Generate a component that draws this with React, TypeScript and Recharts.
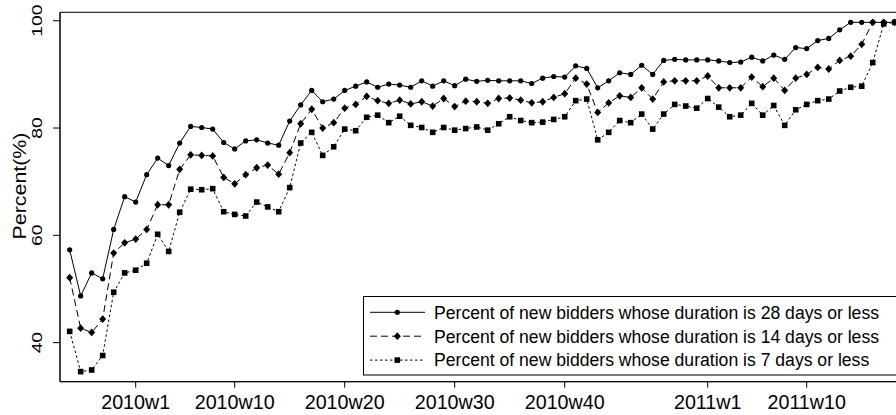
import React from "react";
import { LineChart, Line, XAxis, YAxis, ReferenceArea, Legend } from "recharts";

// weekly categories, 2009w47 .. 2011w18
const weeks = [
  "2009w47", "2009w48", "2009w49", "2009w50", "2009w51", "2009w52",
  "2010w1", "2010w2", "2010w3", "2010w4", "2010w5", "2010w6", "2010w7", "2010w8", "2010w9", "2010w10",
  "2010w11", "2010w12", "2010w13", "2010w14", "2010w15", "2010w16", "2010w17", "2010w18", "2010w19", "2010w20",
  "2010w21", "2010w22", "2010w23", "2010w24", "2010w25", "2010w26", "2010w27", "2010w28", "2010w29", "2010w30",
  "2010w31", "2010w32", "2010w33", "2010w34", "2010w35", "2010w36", "2010w37", "2010w38", "2010w39", "2010w40",
  "2010w41", "2010w42", "2010w43", "2010w44", "2010w45", "2010w46", "2010w47", "2010w48", "2010w49", "2010w50",
  "2010w51", "2010w52",
  "2011w1", "2011w2", "2011w3", "2011w4", "2011w5", "2011w6", "2011w7", "2011w8", "2011w9", "2011w10",
  "2011w11", "2011w12", "2011w13", "2011w14", "2011w15", "2011w16", "2011w17", "2011w18",
];

const pct28 = [
  57.3, 48.7, 53.0, 51.9, 61.1, 67.2, 66.2, 71.3, 74.4, 73.0,
  77.2, 80.3, 80.1, 79.8, 77.3, 76.1, 77.6, 77.8, 77.2, 76.8,
  81.3, 84.3, 87.0, 84.9, 85.4, 87.0, 87.8, 88.6, 87.6, 88.2,
  88.0, 87.6, 88.8, 87.8, 88.8, 87.9, 89.1, 88.7, 88.9, 88.8,
  88.8, 88.8, 88.3, 89.3, 89.6, 89.5, 91.6, 91.1, 87.5, 88.8,
  90.3, 90.0, 91.7, 90.0, 92.6, 92.8, 92.7, 92.7, 92.7, 92.5,
  92.2, 92.3, 93.2, 92.5, 93.6, 92.8, 95.0, 94.8, 96.3, 96.7,
  98.3, 99.7, 99.7, 99.7, 99.7, 99.7,
];

const pct14 = [
  52.1, 42.7, 41.9, 44.4, 56.7, 58.6, 59.3, 61.1, 65.7, 65.7,
  72.3, 75.0, 74.9, 74.8, 70.8, 69.6, 71.3, 72.6, 73.1, 71.4,
  75.4, 80.8, 83.5, 80.0, 81.0, 83.7, 84.4, 85.9, 85.1, 84.6,
  85.2, 84.5, 84.9, 84.1, 85.5, 84.0, 85.0, 84.9, 84.6, 85.5,
  85.6, 85.2, 84.7, 84.9, 85.7, 86.4, 89.3, 88.2, 82.9, 84.7,
  86.0, 85.7, 87.5, 85.4, 88.6, 88.8, 88.8, 88.8, 89.7, 87.5,
  87.5, 87.5, 89.5, 87.7, 89.3, 87.0, 89.3, 90.0, 91.3, 91.0,
  92.6, 93.4, 95.6, 99.7, 99.7, 99.7,
];

const pct7 = [
  42.1, 34.6, 34.9, 37.6, 49.4, 53.0, 53.5, 54.8, 60.2, 57.0,
  64.3, 68.6, 68.5, 68.7, 64.4, 63.9, 63.6, 66.2, 65.3, 64.4,
  68.9, 77.2, 79.2, 74.9, 76.5, 79.8, 79.5, 82.0, 82.4, 81.0,
  82.2, 80.5, 80.1, 79.2, 80.1, 79.6, 79.9, 80.2, 79.6, 80.8,
  82.1, 81.4, 81.0, 81.1, 81.6, 82.1, 85.1, 85.4, 77.8, 79.2,
  81.4, 81.0, 82.6, 79.8, 82.6, 84.4, 84.1, 83.7, 85.5, 83.9,
  82.1, 82.4, 84.6, 82.4, 84.2, 80.5, 83.4, 84.4, 85.1, 85.4,
  86.9, 87.6, 87.8, 92.2, 99.4, 99.7,
];

const tickWeeks = ["2010w1", "2010w10", "2010w20", "2010w30", "2010w40", "2011w1", "2011w10"];
const yTicks = [40, 60, 80, 100];

const seriesNames = [
  "Percent of new bidders whose duration is 28 days or less",
  "Percent of new bidders whose duration is 14 days or less",
  "Percent of new bidders whose duration is 7 days or less",
];

const data = weeks.map((w, i) => ({ idx: i, week: w, d28: pct28[i], d14: pct14[i], d7: pct7[i] }));
const tickIdx = tickWeeks.map((w) => weeks.indexOf(w));

const FONT = '"Liberation Sans", Arial, Helvetica, sans-serif';
const X_DOMAIN: [number, number] = [-0.88, weeks.length - 1 + 0.88];
const Y_DOMAIN: [number, number] = [32.72, 101.57];

const drawCircle = (cx: number, cy: number, key?: any) => (
  <circle key={key} cx={cx} cy={cy} r={2.6} fill="#000" />
);
const drawDiamond = (cx: number, cy: number, key?: any) => (
  <path key={key} d={`M${cx},${cy - 3.9}L${cx + 3.5},${cy}L${cx},${cy + 3.9}L${cx - 3.5},${cy}Z`} fill="#000" />
);
const drawSquare = (cx: number, cy: number, key?: any) => (
  <rect key={key} x={cx - 2.8} y={cy - 2.8} width={5.6} height={5.6} fill="#000" />
);

const dotWith = (fn: typeof drawCircle) => (p: any) => {
  if (p.cx == null || p.cy == null) return <g key={p.index} />;
  return fn(p.cx, p.cy, p.index);
};

const YTick = (props: any) => {
  const { y, payload } = props;
  return (
    <text
      transform={`translate(42.3,${y}) rotate(-90) scale(1,0.78)`}
      textAnchor="middle"
      fontSize={19.3}
      fontFamily={FONT}
      fill="#000"
    >
      {payload.value}
    </text>
  );
};

const YLabel = () => (
  <text
    transform="translate(26,186) rotate(-90) scale(1,0.85)"
    textAnchor="middle"
    fontSize={21.4}
    fontFamily={FONT}
    fill="#000"
  >
    Percent(%)
  </text>
);

const legendStyles = [
  { dash: undefined, marker: drawCircle },
  { dash: "7 4", marker: drawDiamond },
  { dash: "2.5 2.5", marker: drawSquare },
];

const LegendBox = () => (
  <svg width={560} height={80} style={{ display: "block" }}>
    <rect x={0.5} y={0.5} width={545} height={78.5} fill="#fff" stroke="#000" strokeWidth={1} />
    {seriesNames.map((name, i) => {
      const cy = 16.3 + i * 23.9;
      const st = legendStyles[i];
      return (
        <g key={name}>
          <line x1={7} x2={62} y1={cy} y2={cy} stroke="#000" strokeWidth={1} strokeDasharray={st.dash} />
          {st.marker(34.3, cy)}
          <text x={71} y={cy + 6.3} fontSize={17.6} fontFamily={FONT} fill="#000">
            {name}
          </text>
        </g>
      );
    })}
  </svg>
);

export default function App() {
  return (
    <div
      style={{
        position: "absolute",
        left: 0,
        top: 0,
        width: 896,
        height: 415,
        overflow: "hidden",
        background: "#fff",
      }}
    >
      <LineChart
        width={920}
        height={415}
        data={data}
        margin={{ top: 12.3, right: 15.6, bottom: 0, left: 0 }}
      >
        <ReferenceArea
          x1={X_DOMAIN[0]}
          x2={X_DOMAIN[1]}
          y1={Y_DOMAIN[0]}
          y2={Y_DOMAIN[1]}
          fill="none"
          fillOpacity={0}
          stroke="#000"
          strokeWidth={1}
          strokeOpacity={1}
        />
        <XAxis
          dataKey="idx"
          type="number"
          domain={X_DOMAIN}
          allowDataOverflow
          ticks={tickIdx}
          interval={0}
          tickFormatter={(v: number) => weeks[v]}
          tickSize={6}
          tickMargin={7.3}
          height={33.3}
          tick={{ fontSize: 19.7, fill: "#000", fontFamily: FONT }}
          axisLine={{ stroke: "#000" }}
          tickLine={{ stroke: "#000" }}
        />
        <YAxis
          type="number"
          domain={Y_DOMAIN}
          allowDataOverflow
          ticks={yTicks}
          interval={0}
          width={60}
          tickSize={7}
          tick={<YTick />}
          axisLine={{ stroke: "#000" }}
          tickLine={{ stroke: "#000" }}
          label={{ content: <YLabel /> }}
        />
        <Line
          type="linear"
          dataKey="d28"
          name={seriesNames[0]}
          stroke="#000"
          strokeWidth={1}
          dot={dotWith(drawCircle)}
          activeDot={false}
          isAnimationActive={false}
        />
        <Line
          type="linear"
          dataKey="d14"
          name={seriesNames[1]}
          stroke="#000"
          strokeWidth={1}
          strokeDasharray="7 4"
          dot={dotWith(drawDiamond)}
          activeDot={false}
          isAnimationActive={false}
        />
        <Line
          type="linear"
          dataKey="d7"
          name={seriesNames[2]}
          stroke="#000"
          strokeWidth={1}
          strokeDasharray="2.5 2.5"
          dot={dotWith(drawSquare)}
          activeDot={false}
          isAnimationActive={false}
        />
        <Legend
          layout="vertical"
          align="center"
          verticalAlign="middle"
          wrapperStyle={{ left: 363, top: 296, width: 560, height: 80, right: "auto", bottom: "auto" }}
          content={() => <LegendBox />}
        />
      </LineChart>
    </div>
  );
}
